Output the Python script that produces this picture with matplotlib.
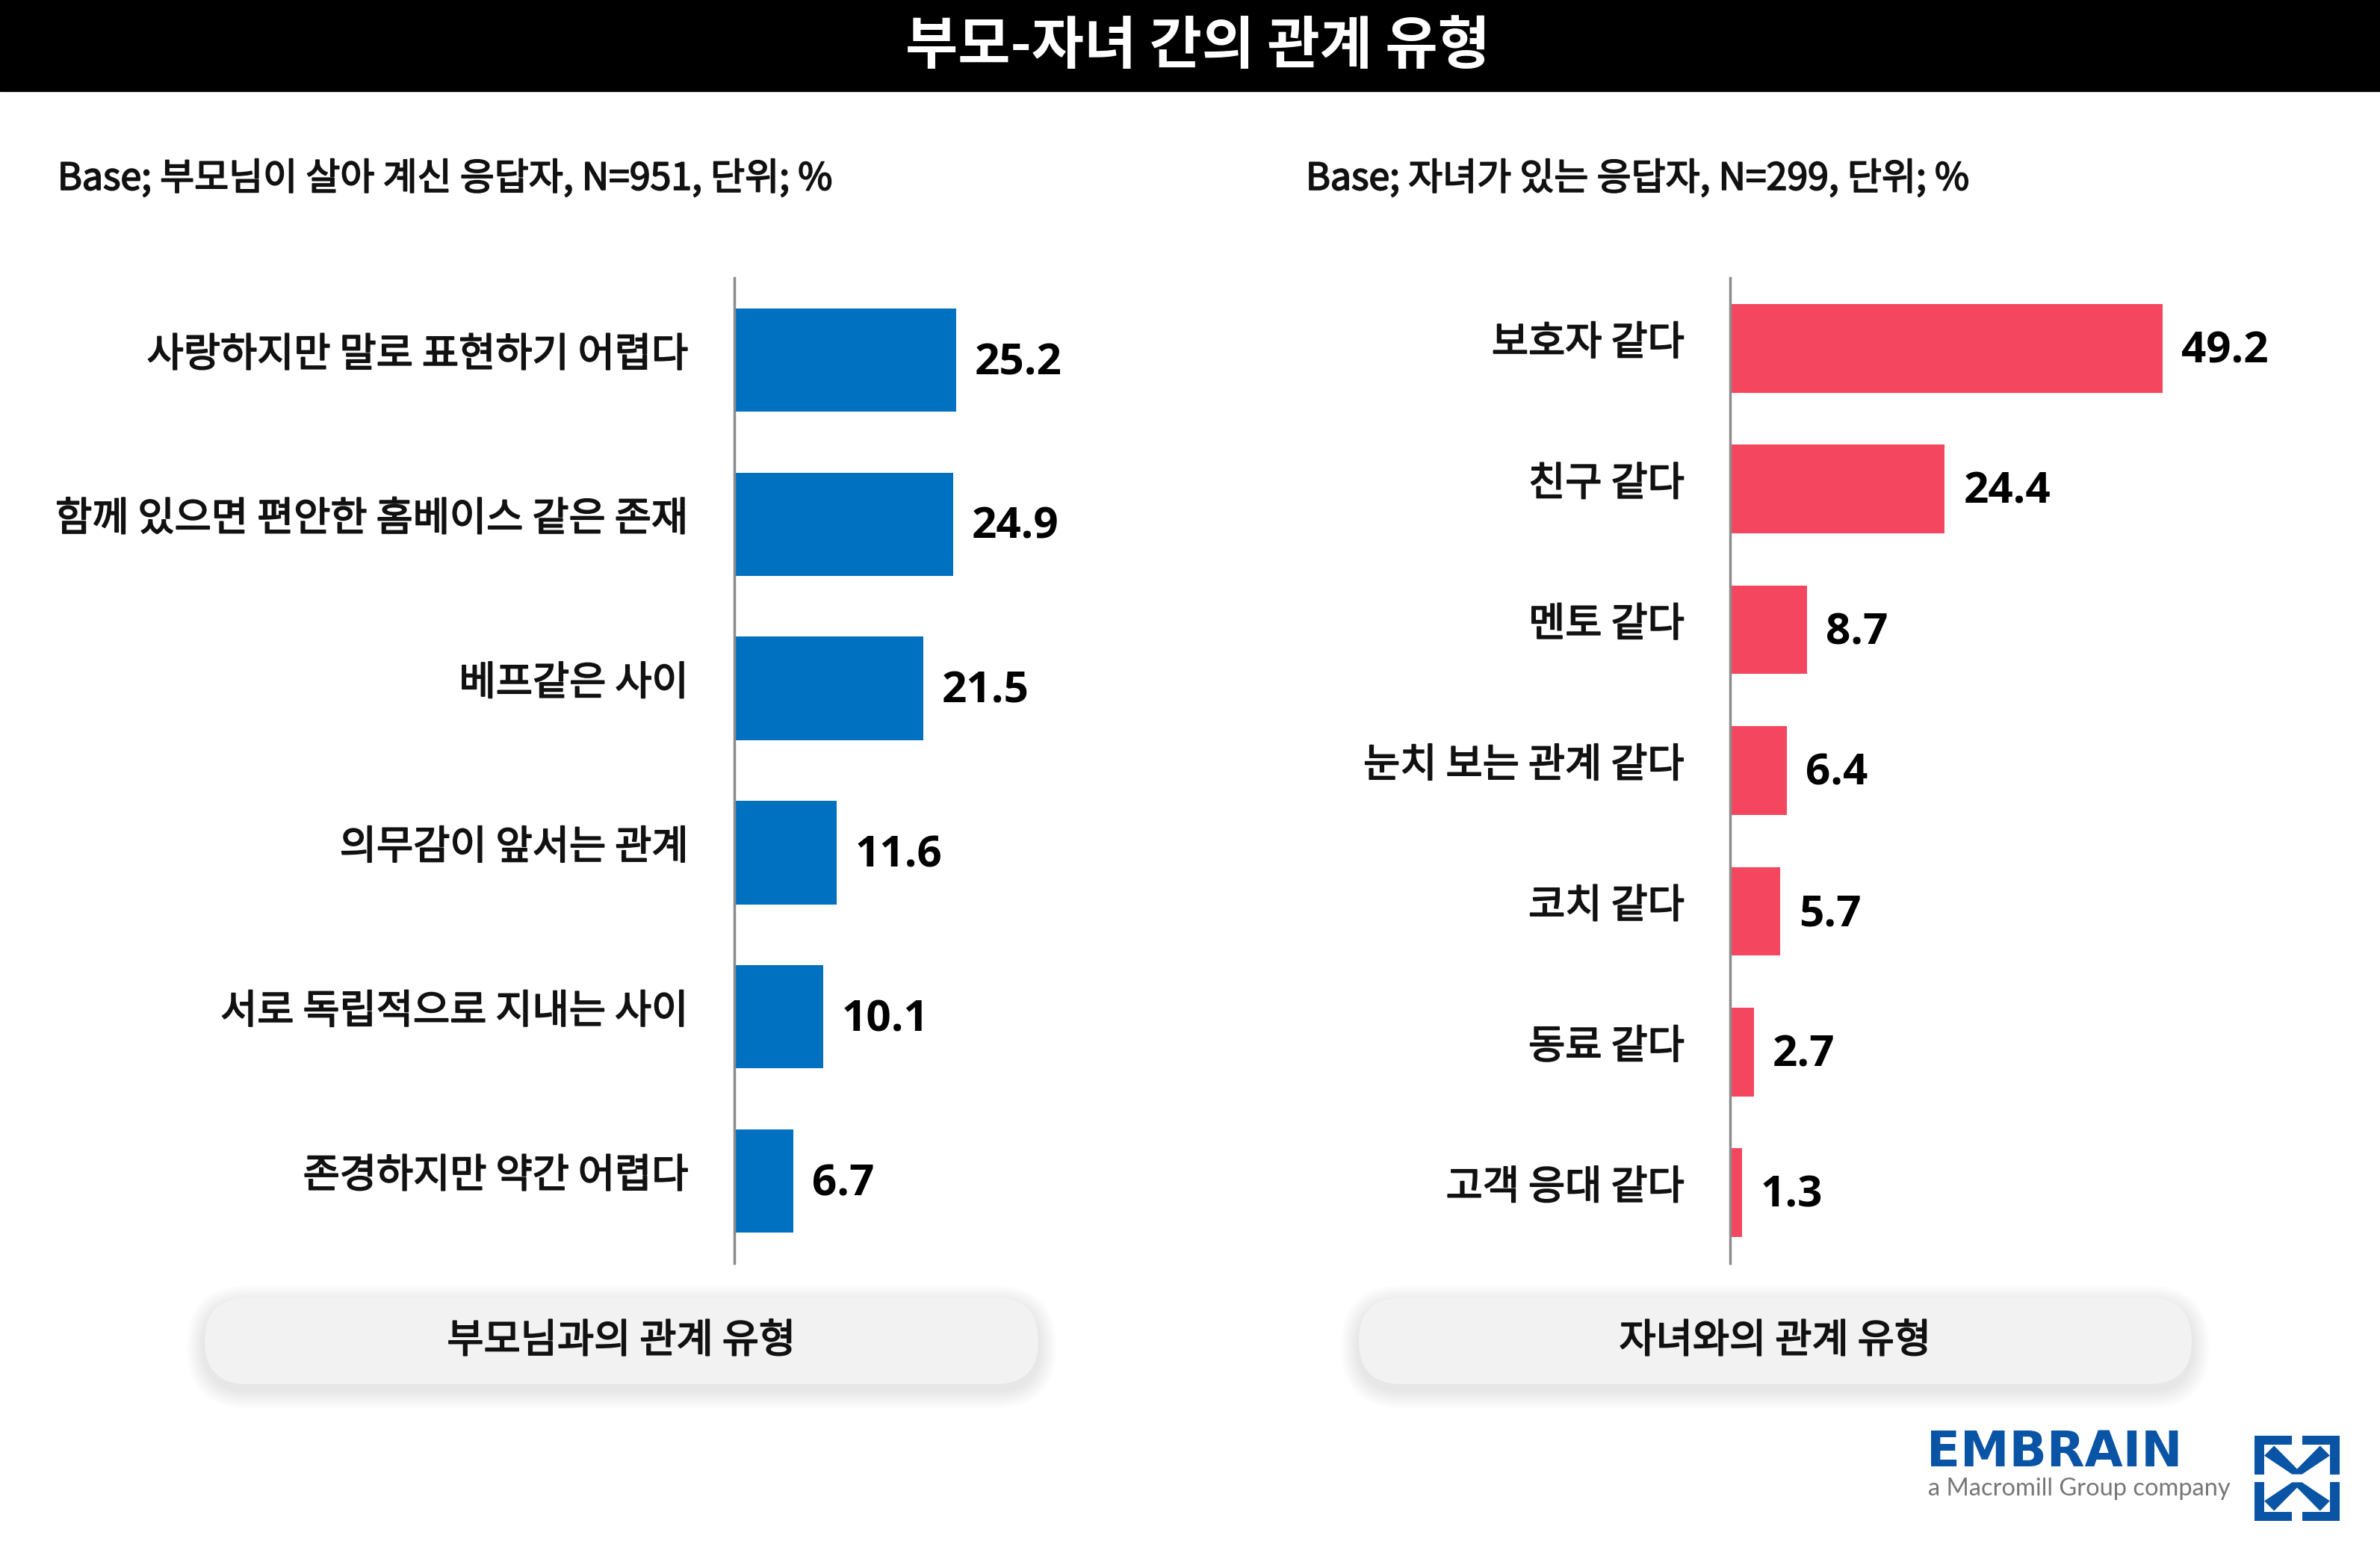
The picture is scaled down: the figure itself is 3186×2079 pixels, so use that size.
import matplotlib
matplotlib.use("Agg")
import matplotlib.pyplot as plt
import matplotlib.patheffects as pe
from matplotlib.patches import FancyBboxPatch, Rectangle, Polygon

plt.rcParams['font.family'] = ['Noto Sans CJK KR', 'DejaVu Sans']

# data
title = "부모-자녀 간의 관계 유형"
left_base = "Base; 부모님이 살아 계신 응답자, N=951, 단위; %"
right_base = "Base; 자녀가 있는 응답자, N=299, 단위; %"

parent_labels = ["사랑하지만 말로 표현하기 어렵다", "함께 있으면 편안한 홈베이스 같은 존재",
                 "베프같은 사이", "의무감이 앞서는 관계", "서로 독립적으로 지내는 사이",
                 "존경하지만 약간 어렵다"]
parent_values = [25.2, 24.9, 21.5, 11.6, 10.1, 6.7]

child_labels = ["보호자 같다", "친구 같다", "멘토 같다", "눈치 보는 관계 같다",
                "코치 같다", "동료 같다", "고객 응대 같다"]
child_values = [49.2, 24.4, 8.7, 6.4, 5.7, 2.7, 1.3]

left_caption = "부모님과의 관계 유형"
right_caption = "자녀와의 관계 유형"

BLUE = "#0070C0"
PINK = "#F4475F"
W, H = 3186, 2079

# regular weight thickened a little, to look like a medium weight
medium = [pe.withStroke(linewidth=1.3, foreground="#111111")]

fig = plt.figure(figsize=(W / 100, H / 100), dpi=100)
fig.patch.set_facecolor("white")

# background layer in pixel coordinates
bg = fig.add_axes([0, 0, 1, 1], zorder=0)
bg.set_xlim(0, W)
bg.set_ylim(H, 0)
bg.axis("off")

bg.add_patch(Rectangle((0, 0), W, 122, color="black"))
bg.text(1603, 62, title, color="white", fontsize=55, fontweight="bold",
        ha="center", va="center")

bg.text(77, 240, left_base, fontsize=36, ha="left", va="center",
        color="#111111", path_effects=medium)
bg.text(1748, 240, right_base, fontsize=36, ha="left", va="center",
        color="#111111", path_effects=medium)


def pill(x0, x1, y0, y1, text):
    h = y1 - y0
    # soft shadow
    for i in range(8, 0, -1):
        g = i * 3
        bg.add_patch(FancyBboxPatch((x0 - g, y0 - g + 8), x1 - x0 + 2 * g, h + 2 * g,
                                    boxstyle="round,pad=0,rounding_size=%f" % (h / 2 + g),
                                    fc="#000000", ec="none", alpha=0.01, zorder=1))
    bg.add_patch(FancyBboxPatch((x0, y0), x1 - x0, h,
                                boxstyle="round,pad=0,rounding_size=%f" % (h / 2),
                                fc="#f2f2f2", ec="none", zorder=2))
    bg.text((x0 + x1) / 2, (y0 + y1) / 2, text, fontsize=38.5, color="#111111",
            ha="center", va="center", zorder=3, path_effects=medium)


pill(274, 1390, 1737, 1853, left_caption)
pill(1819, 2934, 1737, 1853, right_caption)

# logo
bg.text(2579, 1945, "EMBRAIN", fontsize=47.5, fontweight="bold", color="#0A54A5",
        ha="left", va="center", family="DejaVu Sans")
bg.text(2581, 1993, "a Macromill Group company", fontsize=23.5, color="#777777",
        ha="left", va="center", family="Lato")
ix, iy, s = 3018, 1922, 114


def ipoly(pts):
    bg.add_patch(Polygon([(ix + px * s, iy + py * s) for px, py in pts],
                         closed=True, fc="#0A54A5", ec="none"))


for flip in (False, True):
    def fy(v):
        return 1 - v if flip else v
    for mirror in (False, True):
        def fx(v):
            return 1 - v if mirror else v
        ipoly([(fx(0), fy(0)), (fx(0.442), fy(0)), (fx(0.442), fy(0.102)),
               (fx(0.115), fy(0.102)), (fx(0.115), fy(0.453)), (fx(0), fy(0.453))])
    ipoly([(0.23, fy(0.117)), (0.5, fy(0.39)), (0.77, fy(0.117)), (0.885, fy(0.234)),
           (0.558, fy(0.453)), (0.442, fy(0.453)), (0.115, fy(0.234))])


def bar_panel(rect, labels, values, color):
    ax = fig.add_axes(rect, zorder=5)
    ax.patch.set_alpha(0)
    ypos = range(len(values))
    bars = ax.barh(ypos, values, height=0.63, color=color)
    ax.set_xlim(0, 60)
    ax.set_ylim(len(values) - 0.5, -0.5)
    ax.set_yticks([])
    ax.set_xticks([])
    for side in ("top", "right", "bottom"):
        ax.spines[side].set_visible(False)
    ax.spines["left"].set_color("#8c8c8c")
    ax.spines["left"].set_linewidth(2.5)
    for y, lab in zip(ypos, labels):
        ax.annotate(lab, (0, y), xytext=(-44, 5), textcoords="offset points",
                    ha="right", va="center", fontsize=38.5, color="#111111",
                    path_effects=medium, annotation_clip=False)
    for b, v in zip(bars, values):
        ax.annotate(f"{v:.1f}", (b.get_width(), b.get_y() + b.get_height() / 2),
                    xytext=(18, -3), textcoords="offset points", ha="left", va="center",
                    fontsize=42, fontweight="bold", family="Open Sans")
    return ax


bar_panel([0.3086, 0.1867, 0.2216, 0.6343], parent_labels, parent_values, BLUE)
bar_panel([0.7270, 0.1867, 0.2216, 0.6343], child_labels, child_values, PINK)

fig.savefig("out.png", dpi=100, facecolor="white")
